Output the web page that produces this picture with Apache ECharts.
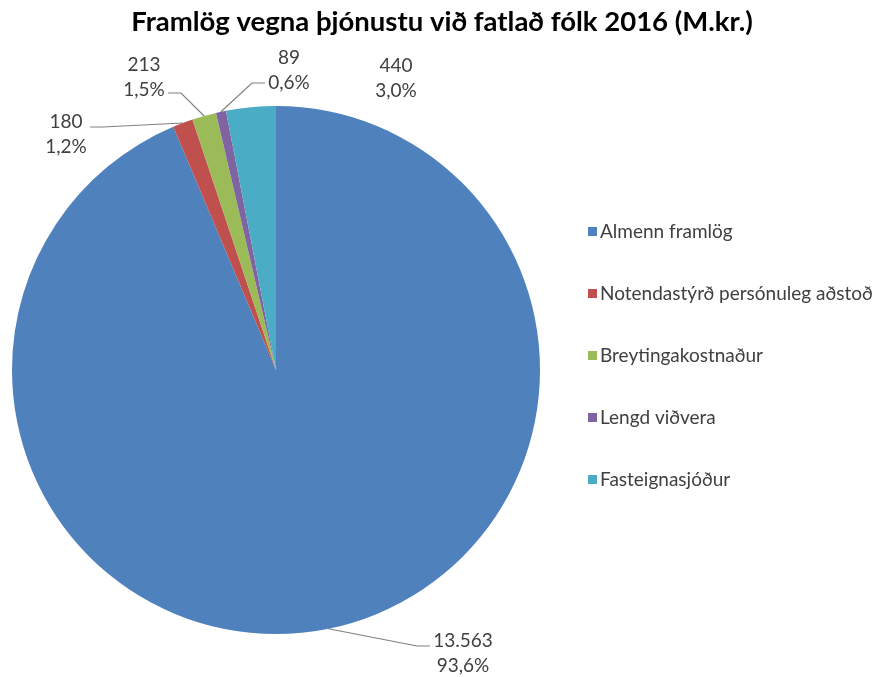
<!DOCTYPE html>
<html><head><meta charset="utf-8">
<script src="https://cdn.jsdelivr.net/npm/echarts@6/dist/echarts.min.js"></script>
<style>html,body{margin:0;padding:0;background:#fff}#c{width:884px;height:677px}</style>
</head><body><div id="c"></div>
<script>
const categories = ['Almenn framlög','Notendastýrð persónuleg aðstoð','Breytingakostnaður','Lengd viðvera','Fasteignasjóður'];
const values = [13563, 180, 213, 89, 440];
const colors = ['#4F81BD','#C0504D','#9BBB59','#8064A2','#4BACC6'];
const titleText = 'Framlög vegna þjónustu við fatlað fólk 2016 (M.kr.)';

// label placement (text-block centre, side where the leader line attaches, line y offset)
const labelPlace = [
  {x:463, y:653, side:'left',  dy:-7},
  {x:66,  y:134, side:'right', dy:-7},
  {x:144, y:77,  side:'right', dy:16},
  {x:289, y:70,  side:'left',  dy:13},
  {x:396, y:78,  side:null}
];

const total = values.reduce((a,b)=>a+b,0);
function fmtVal(v){ return String(v).replace(/\B(?=(\d{3})+(?!\d))/g,'.'); }
function fmtPct(v){ return (v/total*100).toFixed(1).replace('.',',') + '%'; }

const FONT = 'Lato';
const CENTER = [276,370], R = 264;
const chart = echarts.init(document.getElementById('c'));
chart.setOption({
  backgroundColor:'#fff',
  animation:false,
  title:{text:titleText,left:'center',top:3,textStyle:{fontFamily:FONT,fontSize:27.5,fontWeight:'bold',color:'#000'}},
  legend:{orient:'vertical',left:583,top:217,itemWidth:9,itemHeight:9,itemGap:43,icon:'rect',
    textStyle:{fontFamily:FONT,fontSize:19,color:'#404040',padding:[0,0,0,-2]},data:categories},
  series:[{
    type:'pie',center:CENTER,radius:R,startAngle:90,clockwise:true,
    data:categories.map((n,i)=>({name:n,value:values[i],itemStyle:{color:colors[i]}})),
    label:{show:true,position:'outside',overflow:'none',fontFamily:FONT,fontSize:19,color:'#404040',lineHeight:25,align:'center',
      formatter:p=>fmtVal(p.value)+'\n'+fmtPct(p.value)},
    labelLine:{show:true,lineStyle:{color:'#808080',width:1.2}},
    labelLayout:function(params){
      const i = params.dataIndex, pl = labelPlace[i];
      let cum = 0; for(let k=0;k<i;k++) cum += values[k];
      const mid = (90 - 360*(cum + values[i]/2)/total) * Math.PI/180;
      const p0 = [CENTER[0]+R*Math.cos(mid), CENTER[1]-R*Math.sin(mid)];
      const w = 42;
      const out = {x:pl.x, y:pl.y, align:'center', verticalAlign:'middle'};
      if(!pl.side){ out.labelLinePoints=[[pl.x,pl.y],[pl.x,pl.y],[pl.x,pl.y]]; return out; }
      const ly = pl.y + pl.dy;
      const tw = (i===0) ? 60 : w;
      if(pl.side==='left'){
        const e = pl.x - tw/2 - 3;
        out.labelLinePoints = [p0, [e-13, ly], [e, ly]];
      } else {
        const e = pl.x + tw/2 + 3;
        out.labelLinePoints = [p0, [e+13, ly], [e, ly]];
      }
      return out;
    },
    emphasis:{disabled:true}
  }]
});
</script></body></html>
